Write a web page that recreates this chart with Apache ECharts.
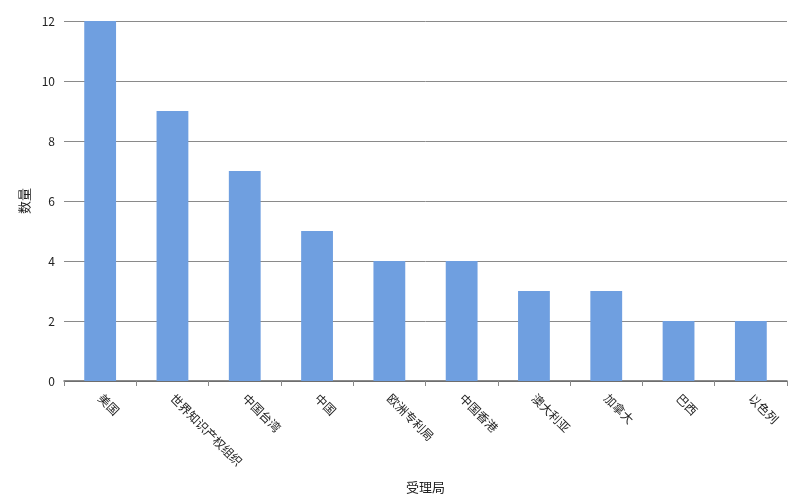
<!DOCTYPE html>
<html><head><meta charset="utf-8">
<script src="https://cdn.jsdelivr.net/npm/echarts@6/dist/echarts.min.js"></script>
<style>html,body{margin:0;padding:0;background:#fff}#c{width:793px;height:499px}</style>
</head><body><div id="c"></div>
<script>
const categories = ['美国','世界知识产权组织','中国台湾','中国','欧洲专利局','中国香港','澳大利亚','加拿大','巴西','以色列'];
const values = [12,9,7,5,4,4,3,3,2,2];
const yTicks = [0,2,4,6,8,10,12];
const chart = echarts.init(document.getElementById('c'));
const font = '"Noto Sans CJK SC","Noto Sans",sans-serif';
chart.setOption({
  animation:false,
  grid:{left:64,right:6,top:21,bottom:118},
  xAxis:{type:'category',data:categories,
    name:'受理局',nameLocation:'middle',nameGap:100,
    nameTextStyle:{color:'#222',fontSize:13,fontFamily:font},
    axisLine:{lineStyle:{color:'#666',width:1.5}},
    axisTick:{show:true,alignWithLabel:false,length:5,lineStyle:{color:'#888'}},
    axisLabel:{rotate:-45,color:'#222',fontSize:12,fontFamily:font,interval:0,margin:15}},
  yAxis:{type:'value',min:yTicks[0],max:yTicks[yTicks.length-1],interval:2,
    name:'数量',nameLocation:'middle',nameGap:30,nameRotate:90,
    nameTextStyle:{color:'#222',fontSize:13,fontFamily:font},
    axisLine:{show:false},axisTick:{show:false},
    splitLine:{lineStyle:{color:'#8a8a8a',width:1}},
    axisLabel:{color:'#222',fontSize:12,fontFamily:font,margin:9}},
  series:[{type:'bar',data:values,barWidth:'44%',itemStyle:{color:'#6f9fe0'}}]
});
</script></body></html>
